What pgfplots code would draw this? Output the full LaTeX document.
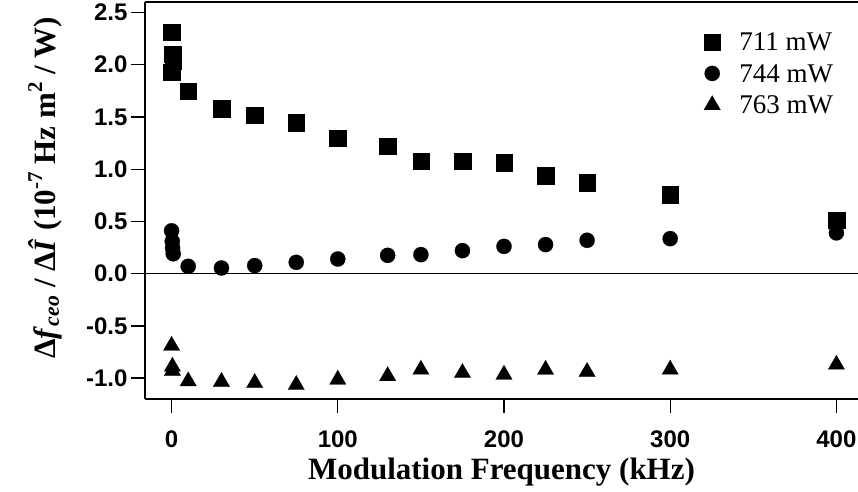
\documentclass[border=0pt]{standalone}
\usepackage{pgfplots}
\pgfplotsset{compat=1.18}
\usepackage{fontspec}
\setmainfont{Liberation Serif}
\newfontfamily\arialfont{Liberation Sans}
\newcommand{\supr}[1]{\raisebox{0.42em}{\fontsize{21bp}{21bp}\selectfont #1}}
\begin{document}
\begin{tikzpicture}
\begin{axis}[
  name=ax, at={(0,0)}, anchor=south west,
  scale only axis, width=713bp, height=397bp,
  xmin=-16, xmax=413, ymin=-1.2, ymax=2.6,
  axis x line=box, axis y line*=left,
  xtick={0,100,200,300,400},
  ytick={-1,-0.5,0,0.5,1,1.5,2,2.5},
  xtick pos=lower, ytick pos=left,
  tick align=outside,
  major tick length=14bp,
  every tick/.style={black, line width=1.3bp},
  axis line style={line width=2bp, black},
  /pgf/number format/assume math mode=true,
  ticklabel style={font=\arialfont\bfseries\fontsize{24bp}{26bp}\selectfont},
  xticklabel style={yshift=-14bp},
  yticklabel style={/pgf/number format/.cd, fixed, fixed zerofill, precision=1},
  xlabel={Modulation Frequency (kHz)},
  ylabel={\bfseries Δ\textit{f}\textsubscript{\textit{ceo}} / Δ\textit{Î} (10\supr{-7} Hz m\supr{2} / W)},
  x label style={at={(axis description cs:0.5,-0.204)}, anchor=base, font=\bfseries\fontsize{31bp}{34bp}\selectfont},
  y label style={at={(axis description cs:-0.126,0.532)}, anchor=base, rotate=0, font=\bfseries\fontsize{31bp}{34bp}\selectfont},
  legend image code/.code={\draw[mark repeat=2,mark phase=2,#1] plot coordinates {(0bp,0.5bp)(12bp,0.5bp)(24bp,0.5bp)};},
  legend style={at={(axis description cs:0.784,0.922)}, anchor=north west, draw=none, fill=none,
    inner sep=0pt, outer sep=0pt, row sep=12bp,
    font=\fontsize{27bp}{30bp}\selectfont,
    nodes={inner ysep=0pt, inner xsep=19bp}},
  legend cell align=left,
]
\addplot[black, line width=1.3bp, forget plot] coordinates {(-20,0) (420,0)};
\addplot[only marks, mark=square*, mark size=8.2bp, mark options={fill=black, draw=black, line width=0.2bp}]
  coordinates {(0,2.31)(0.5,2.10)(1,2.04)(0,1.93)(10,1.75)(30,1.58)(50,1.52)(75,1.445)(100,1.30)(130,1.22)(150,1.075)(175,1.075)(200,1.062)(225,0.938)(250,0.871)(300,0.756)(400,0.51)};
\addlegendentry{711 mW}
\addplot[only marks, mark=*, mark size=7.6bp, mark options={fill=black, draw=black, line width=0.2bp}]
  coordinates {(0,0.41)(0.4,0.31)(0.6,0.245)(1,0.19)(10,0.07)(30,0.054)(50,0.077)(75,0.108)(100,0.14)(130,0.175)(150,0.182)(175,0.22)(200,0.261)(225,0.278)(250,0.319)(300,0.335)(400,0.39)};
\addlegendentry{744 mW}
\addplot[only marks, mark=triangle*, mark size=9.5bp, mark options={fill=black, draw=black, line width=0.2bp}]
  coordinates {(0,-0.69)(0.5,-0.89)(0.5,-0.93)(10,-1.03)(30,-1.035)(50,-1.046)(75,-1.065)(100,-1.014)(130,-0.98)(150,-0.919)(175,-0.95)(200,-0.967)(225,-0.92)(250,-0.94)(300,-0.919)(400,-0.871)};
\addlegendentry{763 mW}
\end{axis}
\pgfresetboundingbox
\path[use as bounding box] ([xshift=-145bp,yshift=-93bp]ax.south west) rectangle ++(858bp,492bp);
\end{tikzpicture}
\end{document}
